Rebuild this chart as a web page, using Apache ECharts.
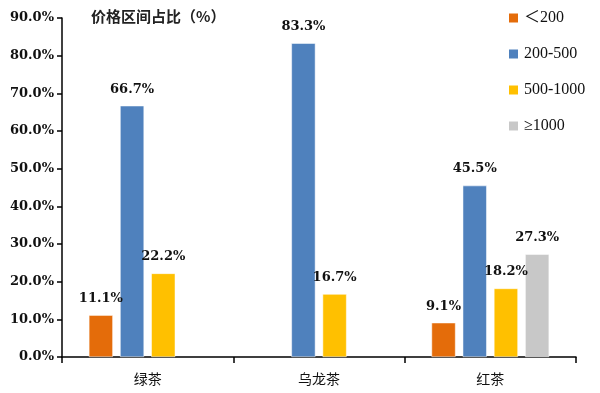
<!DOCTYPE html>
<html><head><meta charset="utf-8">
<script src="https://cdn.jsdelivr.net/npm/echarts@6/dist/echarts.min.js"></script>
<style>html,body{margin:0;padding:0;background:#fff}#c{width:600px;height:393px}</style>
</head><body><div id="c"></div>
<script>
const categories = ['绿茶', '乌龙茶', '红茶'];
const seriesNames = ['＜200', '200-500', '500-1000', '≥1000'];
const lt200 = [11.1, null, 9.1];
const s200_500 = [66.7, 83.3, 45.5];
const s500_1000 = [22.2, 16.7, 18.2];
const ge1000 = [null, null, 27.3];
const colors = ['#E46C0A', '#4F81BD', '#FFC000', '#C8C8C8'];
const yTicks = [0, 10, 20, 30, 40, 50, 60, 70, 80, 90];

const FONT = "'DejaVu Serif','Noto Sans CJK SC',serif";
const chart = echarts.init(document.getElementById('c'));
const allData = [lt200, s200_500, s500_1000, ge1000];
chart.setOption({
  animation: false,
  title: { text: '价格区间占比（%）', left: 86, top: 4,
    textStyle: { fontFamily: "'Noto Sans CJK SC',sans-serif", fontSize: 15, fontWeight: 'bold', color: '#222' } },
  legend: {
    orient: 'vertical', left: 502, top: 5, itemWidth: 11, itemHeight: 11, itemGap: 20,
    icon: 'rect',
    textStyle: { fontFamily: "'Liberation Serif','Noto Sans CJK SC',serif", fontSize: 16, color: '#111' },
    data: seriesNames
  },
  grid: { left: 62, right: 24, top: 18, bottom: 36 },
  xAxis: {
    type: 'category', data: categories,
    axisLine: { lineStyle: { color: '#000', width: 1.5 } },
    axisTick: { show: true, length: 6, lineStyle: { color: '#000', width: 1.5 } },
    axisLabel: { margin: 15, fontFamily: "'Noto Sans CJK SC',sans-serif", fontSize: 14, color: '#111' }
  },
  yAxis: {
    type: 'value', min: 0, max: 90, interval: 10,
    splitLine: { show: false },
    axisLine: { show: true, lineStyle: { color: '#000', width: 1.5 } },
    axisTick: { show: true, length: 5, lineStyle: { color: '#000', width: 1.5 } },
    axisLabel: { margin: 8, fontFamily: FONT, fontSize: 13, fontWeight: 'bold', color: '#111',
      formatter: v => yTicks.includes(v) ? v.toFixed(1) + '%' : '' }
  },
  series: seriesNames.map((n, i) => ({
    name: n, type: 'bar', data: allData[i], barWidth: 24, barGap: '30%',
    itemStyle: { color: colors[i], borderColor: '#fff', borderWidth: 0.5 },
    label: { show: true, position: 'top', distance: 10, fontFamily: FONT, fontSize: 13, fontWeight: 'bold', color: '#111',
      formatter: p => p.value == null ? '' : p.value.toFixed(1) + '%' }
  }))
});
</script></body></html>
